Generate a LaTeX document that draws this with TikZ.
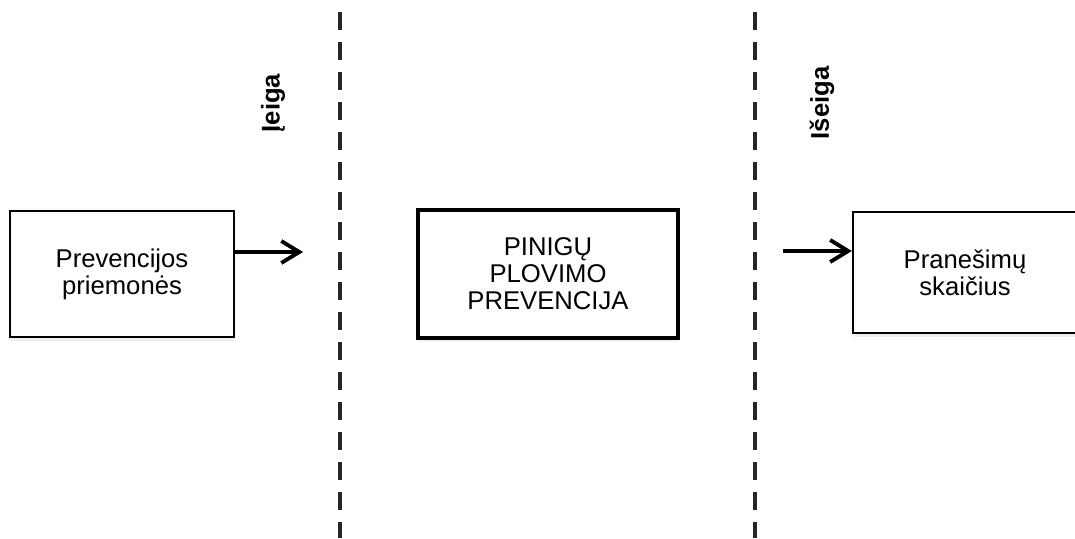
\documentclass[tikz,border=0pt]{standalone}
\usepackage{fontspec}
\setmainfont{Liberation Sans}
\usetikzlibrary{arrows.meta,shadows}
\tikzset{
  box/.style={draw,fill=white,line width=1.3pt,minimum width=4.48cm,align=center,
    font=\fontsize{14.6}{15.4}\selectfont,
    drop shadow={opacity=0.12,shadow xshift=0pt,shadow yshift=-2pt}},
  sep/.style={line width=2.3pt,dash pattern=on 0.36cm off 0.24cm,black!85},
  lab/.style={rotate=90,font=\fontsize{14.6}{15.4}\selectfont\bfseries},
  flow/.style={line width=2.2pt,-{Straight Barb[length=3.6mm,width=4.4mm]}}
}
\begin{document}
\begin{tikzpicture}
\useasboundingbox (0,0) rectangle (21.5,10.76);
\node[box,minimum height=2.52cm] (p0) at (2.44,5.28) {Prevencijos\\priemonės};
\node[box,line width=2pt,minimum width=5.2cm,minimum height=2.56cm] (p1) at (10.96,5.28) {PINIGŲ\\PLOVIMO\\PREVENCIJA};
\node[box,minimum height=2.42cm] (p2) at (19.3,5.31) {Pranešimų\\skaičius};
\node[lab] (l1) at (5.46,8.7) {Įeiga};
\node[lab] (l2) at (16.44,8.7) {Išeiga};
\coordinate (s1a) at (6.8,10.52);
\coordinate (s1b) at (6.8,0);
\coordinate (s2a) at (15.1,10.52);
\coordinate (s2b) at (15.1,0);
\coordinate (a0) at (6.06,5.72);
\coordinate (a1) at (15.66,5.74);
\draw[sep] (s1a) -- (s1b);
\draw[sep] (s2a) -- (s2b);
\draw[flow] (p0.east |- a0) -- (a0);
\draw[flow] (a1) -- (p2.west |- a1);
\end{tikzpicture}
\end{document}
